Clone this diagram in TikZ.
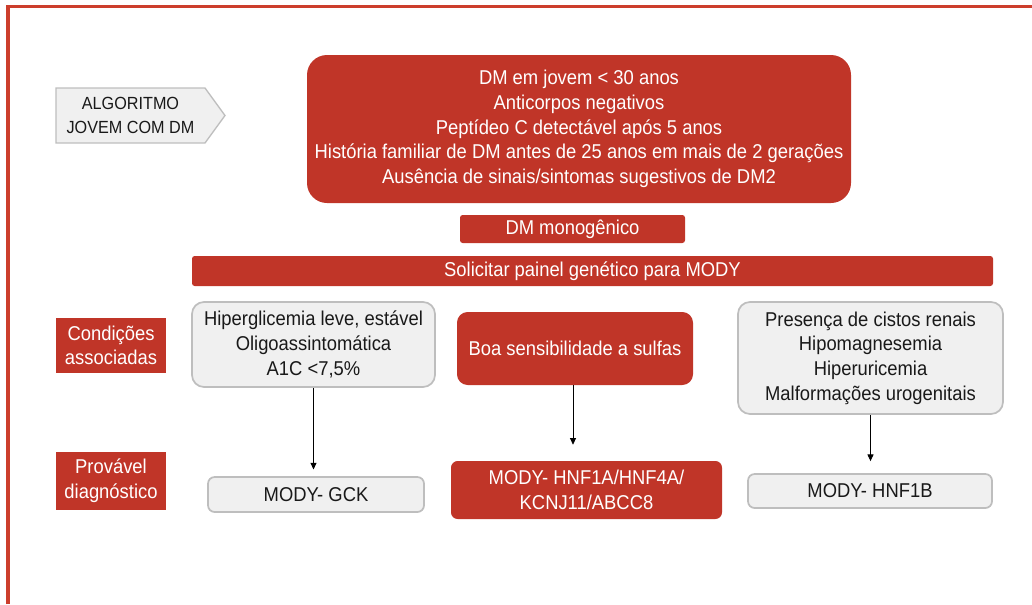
\documentclass[tikz,border=0pt]{standalone}
\usepackage{fontspec}
\setmainfont{Liberation Sans}[FakeStretch=0.92]
\usepackage{tikz}
\usetikzlibrary{
  arrows.meta,
  positioning,
  shapes.symbols
}
\definecolor{modyred}{RGB}{192,53,40}
\definecolor{modyframe}{RGB}{204,62,44}
\definecolor{modygray}{RGB}{240,240,240}
\definecolor{modyedge}{RGB}{190,190,190}
\definecolor{modytext}{RGB}{25,25,25}
\tikzset{
  modyW/.style={minimum width=#1*0.75pt},
  modyH/.style={minimum height=#1*0.75pt},
  modyRed/.style={
    rectangle,
    fill=modyred,
    text=white,
    inner sep=0pt,
    align=center
  },
  modyGray/.style={
    rectangle,
    draw=modyedge,
    line width=1.3pt,
    fill=modygray,
    text=modytext,
    inner sep=0pt,
    align=center
  },
  modyTag/.style={
    modyRed,
    modyW=110
  },
  modyStart/.style={
    signal,
    signal to=east,
    signal pointer angle=108,
    draw=modyedge,
    line width=1pt,
    fill=modygray,
    text=modytext,
    inner sep=0pt,
    align=center,
    font=\fontsize{13.2}{18.5}\selectfont
  },
  modyArrow/.style={
    -{Triangle[length=5pt,width=4.5pt]},
    line width=0.6pt,
    draw=black
  }
}

\begin{document}
\begin{tikzpicture}[x=0.75pt, y=-0.75pt,
  font=\fontsize{15}{18.5}\selectfont]
  \useasboundingbox (0,0) rectangle (1032,604);
  \draw[modyframe, line width=2.4pt] (8,604) -- (8,6.5) -- (1032,6.5);

  \node[modyStart, modyW=169, modyH=55] (start) at (130.5,115.5)
    {ALGORITMO\\JOVEM COM DM};

  \node[modyRed, rounded corners=15pt, modyW=544, modyH=148]
    (criteria) at (579,129)
    {DM em jovem < 30 anos\\
     Anticorpos negativos\\
     Peptídeo C detectável após 5 anos\\
     História familiar de DM antes de 25 anos em mais de 2 gerações\\
     Ausência de sinais/sintomas sugestivos de DM2};

  \node[modyRed, rounded corners=2pt, modyW=225, modyH=28]
    (mono) at (572.5,229) {DM monogênico};

  \node[modyRed, rounded corners=2pt, modyW=801, modyH=30]
    (panel) at (592.5,271) {Solicitar painel genético para MODY};

  % condicoes associadas
  \node[modyTag, modyH=55] (cond) at (111,345.5) {Condições\\associadas};

  \node[modyGray, rounded corners=9pt, modyW=243, modyH=85]
    (gck) at (313.5,344.5)
    {Hiperglicemia leve, estável\\Oligoassintomática\\A1C <7,5\%};

  \node[modyRed, rounded corners=8pt, modyW=236, modyH=73]
    (sulfa) at (575,348.5) {Boa sensibilidade a sulfas};

  \node[modyGray, rounded corners=9pt, modyW=265, modyH=112]
    (renal) at (870.5,358)
    {Presença de cistos renais\\Hipomagnesemia\\Hiperuricemia\\
     Malformações urogenitais};

  % provavel diagnostico
  \node[modyTag, modyH=58] (diag) at (111,481) {Provável\\diagnóstico};

  \node[modyGray, rounded corners=5pt, modyW=216, modyH=35]
    (gckDx) at (316,494.5) {MODY- GCK};

  \node[modyRed, rounded corners=5pt, modyW=271, modyH=58]
    (hnfDx) at (586.5,490) {MODY- HNF1A/HNF4A/\\KCNJ11/ABCC8};

  \node[modyGray, rounded corners=5pt, modyW=244, modyH=34]
    (hnf1bDx) at (870,491) {MODY- HNF1B};

  \draw[modyArrow, shorten >=5pt] (gck.south) -- (gck.south |- gckDx.north);
  \draw[modyArrow, shorten >=12pt] ([xshift=-1.5pt]sulfa.south)
    -- ([xshift=-1.5pt]sulfa.south |- hnfDx.north);
  \draw[modyArrow, shorten >=9pt] (renal.south) -- (renal.south |- hnf1bDx.north);
\end{tikzpicture}
\end{document}
